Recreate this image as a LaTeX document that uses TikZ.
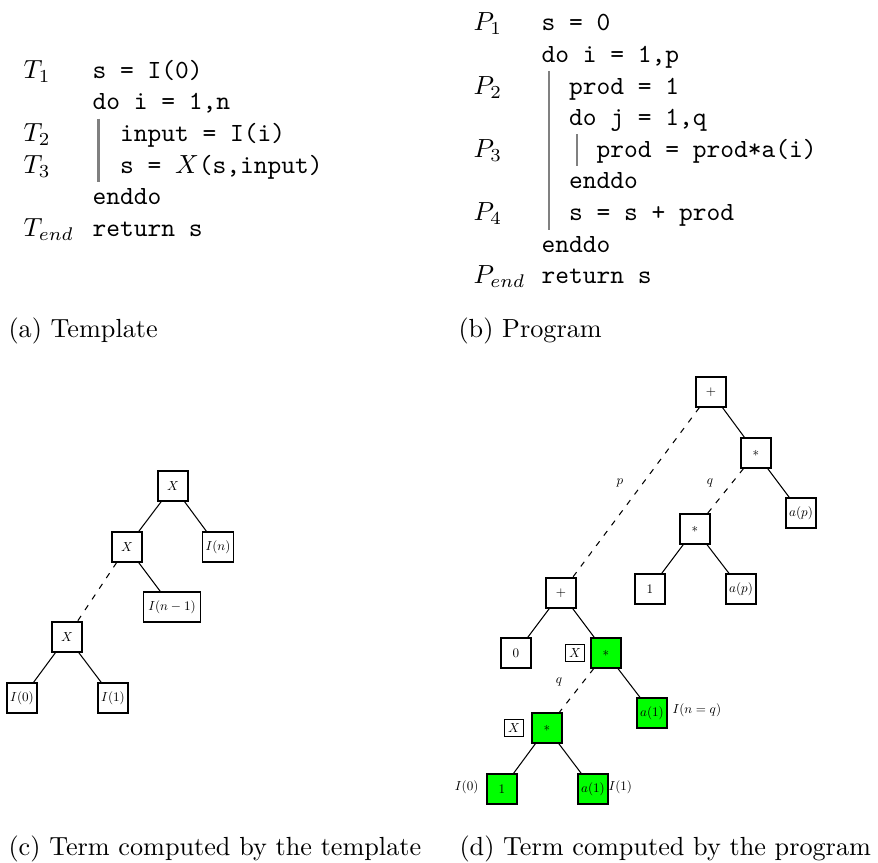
\documentclass[tikz,border=0pt]{standalone}
\usepackage{graphicx}
% tree labels are set at 10pt and shrunk by half
\newcommand{\halfsize}[1]{\scalebox{0.5}{#1}}
\begin{document}
% one unit = one pixel of the final sheet (2.62 px per pt), y grows downwards
\begin{tikzpicture}[x=0.38168pt, y=-0.38168pt]
\tikzset{
  term/.style={draw, line width=0.4pt, minimum size=11.45pt, inner sep=1pt},
  hit/.style={term, fill=green},
  tag/.style={draw, line width=0.4pt, minimum width=7.6pt, minimum height=6.5pt, inner sep=0.8pt},
  note/.style={inner sep=0pt},
  edge/.style={line width=0.4pt},
  loopedge/.style={edge, dash pattern=on 2.2pt off 2.7pt},
  codeline/.style={anchor=base west, inner sep=0pt, font=\ttfamily},
  lbl/.style={anchor=base west, inner sep=0pt},
  caption/.style={anchor=base west, inner sep=0pt},
  bar/.style={line width=0.8pt, gray},
}
\useasboundingbox (0,0) rectangle (878,863);

% ---------------- (a) template code ----------------
\node[lbl] (ta1) at (23,78.4) {$T_1$};
\node[codeline] (tc1) at (92,78.4) {s = I(0)};
\node[codeline] (tc2) at (92,110) {do i = 1,n};
\node[lbl] (ta2) at (23,141.6) {$T_2$};
\node[codeline] (tc3) at (119.5,141.6) {input = I(i)};
\node[lbl] (ta3) at (23,173.2) {$T_3$};
\node[codeline] (tc4) at (119.5,173.2) {s = $X$(s,input)};
\node[codeline] (tc5) at (92,204.8) {enddo};
\node[lbl] (ta4) at (23,236.4) {$T_{end}$};
\node[codeline] (tc6) at (92,236.4) {return s};
\draw[bar] (98.5,118.6) -- (98.5,182.2);
\node[caption] (capa) at (8,338) {(a) Template};

% ---------------- (b) program code ----------------
\node[lbl] (pa1) at (473,31) {$P_1$};
\node[codeline] (pc1) at (541,31) {s = 0};
\node[codeline] (pc2) at (541,62.6) {do i = 1,p};
\node[lbl] (pa2) at (473,94.2) {$P_2$};
\node[codeline] (pc3) at (568.5,94.2) {prod = 1};
\node[codeline] (pc4) at (568.5,125.8) {do j = 1,q};
\node[lbl] (pa3) at (473,157.4) {$P_3$};
\node[codeline] (pc5) at (596,157.4) {prod = prod*a(i)};
\node[codeline] (pc6) at (568.5,189) {enddo};
\node[lbl] (pa4) at (473,220.6) {$P_4$};
\node[codeline] (pc7) at (568.5,220.6) {s = s + prod};
\node[codeline] (pc8) at (541,252.2) {enddo};
\node[lbl] (pa5) at (473,283.8) {$P_{end}$};
\node[codeline] (pc9) at (541,283.8) {return s};
\draw[bar] (549,71.2) -- (549,229.6);
\draw[bar] (577,134.4) -- (577,166.4);
\node[caption] (capb) at (458,338) {(b) Program};

% ---------------- (c) term of the template ----------------
\node[term] (cx1) at (173,486) {\halfsize{$X$}};
\node[term] (cx2) at (127,547) {\halfsize{$X$}};
\node[term] (cin) at (218,547) {\halfsize{$I(n)$}};
\node[term, minimum width=21.4pt] (cinm) at (172,607) {\halfsize{$I(n-1)$}};
\node[term] (cx3) at (67,637) {\halfsize{$X$}};
\node[term] (ci0) at (22,698) {\halfsize{$I(0)$}};
\node[term] (ci1) at (113,698) {\halfsize{$I(1)$}};
\draw[edge] (cx1) -- (cx2);
\draw[edge] (cx1) -- (cin);
\draw[edge] (cx2) -- (cinm);
\draw[loopedge] (cx2) -- (cx3);
\draw[edge] (cx3) -- (ci0);
\draw[edge] (cx3) -- (ci1);
\node[caption] (capc) at (8,856) {(c) Term computed by the template};

% ---------------- (d) term of the program ----------------
\node[term] (dp1) at (711,392) {\halfsize{$+$}};
\node[term] (ds1) at (756,453) {\halfsize{$*$}};
\node[term] (dap1) at (801,513) {\halfsize{$a(p)$}};
\node[term] (ds2) at (695,529) {\halfsize{$*$}};
\node[term] (done1) at (650,589) {\halfsize{$1$}};
\node[term] (dap2) at (741,589) {\halfsize{$a(p)$}};
\node[term] (dp2) at (561,593) {\halfsize{$+$}};
\node[term] (dzero) at (516,653) {\halfsize{$0$}};
\node[hit] (dg1) at (606,653) {\halfsize{$*$}};
\node[tag] (dtag1) at (575,653) {\halfsize{$X$}};
\node[hit] (dga1) at (652,713) {\halfsize{$a(1)$}};
\node[hit] (dg2) at (547,728) {\halfsize{$*$}};
\node[tag] (dtag2) at (514,728) {\halfsize{$X$}};
\node[hit] (dgone) at (502,789) {\halfsize{$1$}};
\node[hit] (dga2) at (593,789) {\halfsize{$a(1)$}};

\node[note, anchor=west] (dlnq) at (672,710) {\halfsize{$I(n=q)$}};
\node[note, anchor=east] (dl0) at (479,787) {\halfsize{$I(0)$}};
\node[note, anchor=west] (dl1) at (608,787) {\halfsize{$I(1)$}};
\node[note] (dlp) at (620,483) {\halfsize{$p$}};
\node[note] (dlq1) at (710,483) {\halfsize{$q$}};
\node[note] (dlq2) at (559,682) {\halfsize{$q$}};

\draw[edge] (dp1) -- (ds1);
\draw[loopedge] (dp1) -- (dp2);
\draw[edge] (ds1) -- (dap1);
\draw[loopedge] (ds1) -- (ds2);
\draw[edge] (ds2) -- (done1);
\draw[edge] (ds2) -- (dap2);
\draw[edge] (dp2) -- (dzero);
\draw[edge] (dp2) -- (dg1);
\draw[edge] (dg1) -- (dga1);
\draw[loopedge] (dg1) -- (dg2);
\draw[edge] (dg2) -- (dgone);
\draw[edge] (dg2) -- (dga2);
\node[caption] (capd) at (459,856) {(d) Term computed by the program};
\end{tikzpicture}
\end{document}
